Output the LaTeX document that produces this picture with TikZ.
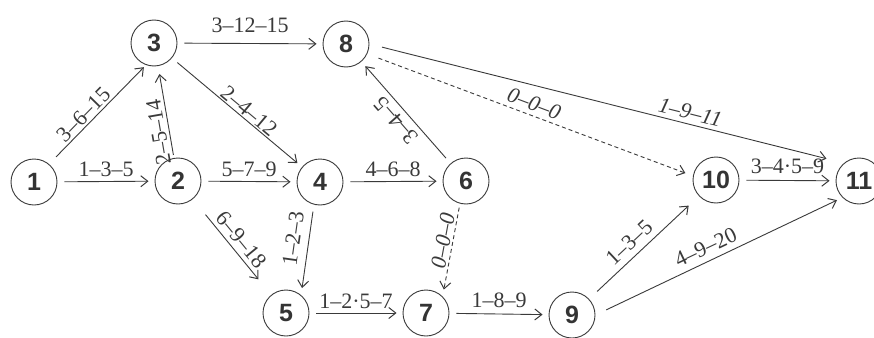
\documentclass[tikz,border=0pt]{standalone}
\usepackage{fontspec}
\setmainfont{Liberation Serif}
\newfontfamily\nodefont{Liberation Sans}
\usetikzlibrary{arrows.meta}
\definecolor{ink}{HTML}{3A3A3A}
\tikzset{
  ev/.style={circle, draw=ink, line width=0.9pt, minimum size=46pt, inner sep=0pt,
    font=\nodefont\bfseries\fontsize{25}{25}\selectfont, text=ink!90!black},
  act/.style={draw=ink, line width=0.9pt, -{Straight Barb[length=7pt,width=11pt,line width=1pt]},
    shorten >=6pt, shorten <=7pt},
  dummy/.style={act, dashed, dash pattern=on 4pt off 3pt},
  lab/.style={font=\fontsize{22}{22}\selectfont, text=ink, inner sep=1pt},
  ilab/.style={lab, font=\itshape\fontsize{22}{22}\selectfont},
}
\begin{document}
\begin{tikzpicture}[x=1pt,y=-1pt]
\useasboundingbox[fill=white] (0,0) rectangle (874,337);
\node[ev] (n1) at (34,182) {1};
\node[ev] (n2) at (178,181) {2};
\node[ev] (n3) at (154,43) {3};
\node[ev] (n4) at (320,182) {4};
\node[ev] (n5) at (286,313) {5};
\node[ev] (n6) at (466,181) {6};
\node[ev] (n7) at (426,313) {7};
\node[ev] (n8) at (346,44) {8};
\node[ev] (n9) at (572,315) {9};
\node[ev] (n10) at (716,180) {10};
\node[ev] (n11) at (859,181) {11};

\draw[act] (n1) -- node[lab, above=3pt] {1–3–5} (n2);
\draw[act, shorten <=10pt, shorten >=3pt] (n1.50) -- node[lab, sloped, above=1pt, pos=0.43] {3–6–15} (n3.-110);
\draw[act, shorten <=3pt, shorten >=8pt] (n2.100) -- node[lab, sloped, allow upside down, above=2pt, pos=0.3] {2–5–14} (n3.-80);
\draw[act] (n3) -- node[lab, above=9pt] {3–12–15} (n8);
\draw[act] (n3) -- node[lab, sloped, above=0pt, pos=0.55] {2–4–12} (n4);
\draw[act] (n2) -- node[lab, above=3pt] {5–7–9} (n4);
\draw[act, shorten <=20pt, shorten >=20pt] (n2) -- node[lab, sloped, above=3pt, pos=0.5] {6–9–18} (n5);
\draw[act, shorten <=7pt, shorten >=7pt] (n4.-105) -- node[lab, sloped, above=7pt, pos=0.4] {1–2–3} (n5.50);
\draw[act] (n4) -- node[lab, above=3pt] {4–6–8} (n6);
\draw[act] (n6) -- node[lab, sloped, allow upside down, above=4pt, pos=0.5] {3–4–5} (n8);
\draw[dummy, shorten <=4pt, shorten >=7pt] (n6.-105) -- node[ilab, sloped, above=1pt, pos=0.42] {0–0–0} (n7.45);
\draw[act] (n5) -- node[lab, above=3pt] {1–2·5–7} (n7);
\draw[act] (n7) -- node[lab, above=5pt] {1–8–9} (n9);
\draw[act, shorten <=11pt, shorten >=14pt] (n9) -- node[lab, sloped, above=5pt, pos=0.45] {1–3–5} (n10);
\draw[act, shorten <=12pt, shorten >=6pt] (n9.east) -- node[lab, sloped, above=5pt, pos=0.47] {4–9–20} (n11.-135);
\draw[act] (n10) -- node[lab, above=5pt] {3–4·5–9} (n11);
\draw[act, shorten <=13pt, shorten >=18pt] (n8.east) -- node[ilab, sloped, above=3pt, pos=0.67] {1–9–11} (n11.130);
\draw[dummy, shorten <=12pt, shorten >=8pt] (n8.-25) -- node[ilab, sloped, above=3pt, pos=0.5] {0–0–0} (n10.170);
\end{tikzpicture}
\end{document}
